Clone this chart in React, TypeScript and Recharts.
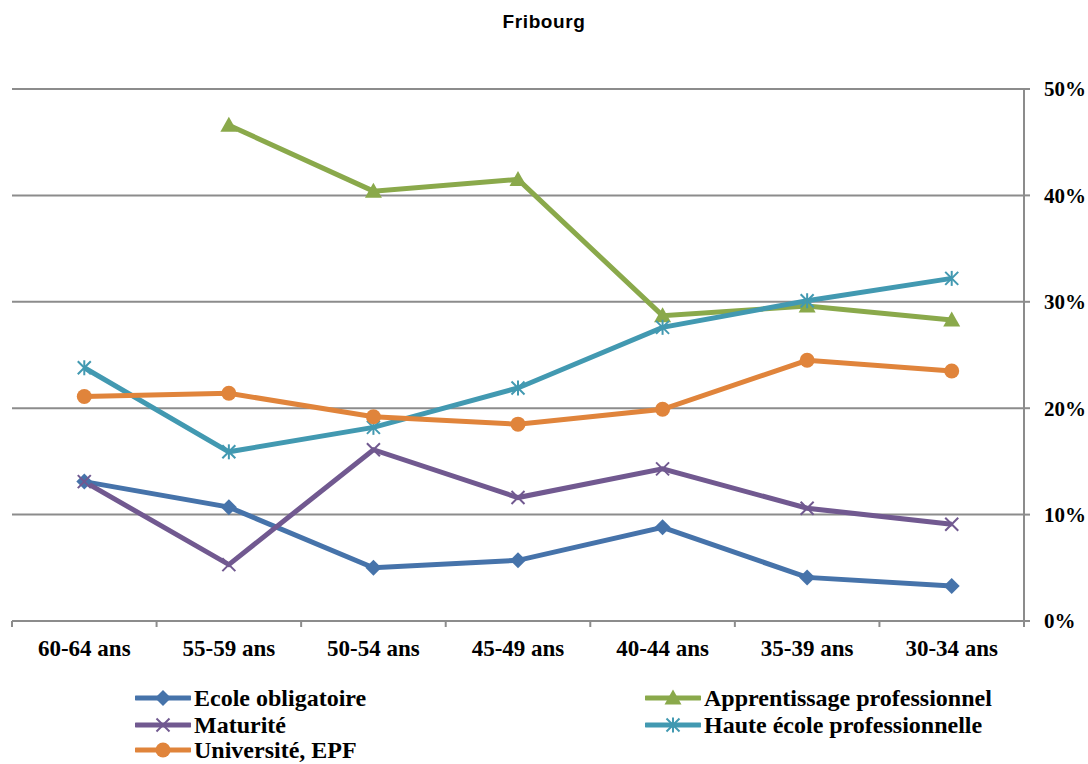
import React from 'react';
import { LineChart, Line, XAxis, YAxis, CartesianGrid, Legend } from 'recharts';

const categories = ['60-64 ans', '55-59 ans', '50-54 ans', '45-49 ans', '40-44 ans', '35-39 ans', '30-34 ans'];
const ecole = [13.1, 10.7, 5.0, 5.7, 8.8, 4.1, 3.3];
const apprentissage = [null, 46.6, 40.4, 41.5, 28.7, 29.6, 28.3];
const maturite = [13.1, 5.3, 16.1, 11.6, 14.3, 10.6, 9.1];
const haute = [23.8, 15.9, 18.2, 21.9, 27.6, 30.1, 32.2];
const universite = [21.1, 21.4, 19.2, 18.5, 19.9, 24.5, 23.5];
const yTicks = [0, 10, 20, 30, 40, 50];

const data = categories.map((cat, i) => ({
  cat,
  ecole: ecole[i],
  apprentissage: apprentissage[i],
  maturite: maturite[i],
  haute: haute[i],
  universite: universite[i],
}));

const C_BLUE = '#4673aa';
const C_GREEN = '#8aa94b';
const C_PURPLE = '#715990';
const C_TEAL = '#4299b1';
const C_ORANGE = '#e0843b';
const GRID = '#8c8c8c';
const SERIF = '"Liberation Serif", "Times New Roman", serif';

type MarkerKind = 'diamond' | 'triangle' | 'x' | 'star' | 'circle';

const marker = (kind: MarkerKind, cx: number, cy: number, color: string, key?: string) => {
  switch (kind) {
    case 'diamond':
      return <path key={key} d={`M${cx},${cy - 8} L${cx + 8},${cy} L${cx},${cy + 8} L${cx - 8},${cy} Z`} fill={color} />;
    case 'triangle':
      return <path key={key} d={`M${cx},${cy - 8.5} L${cx + 8.5},${cy + 6.5} L${cx - 8.5},${cy + 6.5} Z`} fill={color} />;
    case 'x':
      return (
        <g key={key} stroke={color} strokeWidth={2}>
          <line x1={cx - 6.5} y1={cy - 6.5} x2={cx + 6.5} y2={cy + 6.5} />
          <line x1={cx - 6.5} y1={cy + 6.5} x2={cx + 6.5} y2={cy - 6.5} />
        </g>
      );
    case 'star':
      return (
        <g key={key} stroke={color} strokeWidth={2}>
          <line x1={cx - 6.5} y1={cy - 6.5} x2={cx + 6.5} y2={cy + 6.5} />
          <line x1={cx - 6.5} y1={cy + 6.5} x2={cx + 6.5} y2={cy - 6.5} />
          <line x1={cx} y1={cy - 7.5} x2={cx} y2={cy + 7.5} />
        </g>
      );
    case 'circle':
    default:
      return <circle key={key} cx={cx} cy={cy} r={7.5} fill={color} />;
  }
};

const makeDot = (kind: MarkerKind, color: string) => (props: any) => {
  const { cx, cy, index } = props;
  if (cx == null || cy == null || props.value == null) return <g key={`d-${kind}-${index}`} />;
  return marker(kind, cx, cy, color, `d-${kind}-${index}`);
};

const XTick = (props: any) => {
  const { x, y, payload, index, visibleTicksCount } = props;
  const off = payload.offset || 0;
  const axisY = y - 6;
  return (
    <g>
      <line x1={x - off} y1={axisY} x2={x - off} y2={axisY + 6} stroke={GRID} strokeWidth={2} />
      {index === visibleTicksCount - 1 && (
        <line x1={x + off} y1={axisY} x2={x + off} y2={axisY + 6} stroke={GRID} strokeWidth={2} />
      )}
      <text x={x} y={y + 29} textAnchor="middle" fontFamily={SERIF} fontWeight="bold" fontSize={23} fill="#000">
        {payload.value}
      </text>
    </g>
  );
};

const legendItems: { label: string; kind: MarkerKind; color: string; left: number; top: number }[] = [
  { label: 'Ecole obligatoire', kind: 'diamond', color: C_BLUE, left: 135, top: 37 },
  { label: 'Maturité', kind: 'x', color: C_PURPLE, left: 135, top: 64 },
  { label: 'Université, EPF', kind: 'circle', color: C_ORANGE, left: 135, top: 89 },
  { label: 'Apprentissage professionnel', kind: 'triangle', color: C_GREEN, left: 645, top: 37 },
  { label: 'Haute école professionnelle', kind: 'star', color: C_TEAL, left: 645, top: 64 },
];

const LegendContent = () => (
  <div style={{ position: 'relative', width: 1088, height: 103 }}>
    {legendItems.map((it) => (
      <div key={it.label} style={{ position: 'absolute', left: it.left, top: it.top - 11, height: 22, display: 'flex', alignItems: 'center' }}>
        <svg width={56} height={22} style={{ display: 'block' }}>
          <line x1={1} y1={11} x2={55} y2={11} stroke={it.color} strokeWidth={5} strokeLinecap="round" />
          {marker(it.kind, 28, 11, it.color)}
        </svg>
        <span style={{ fontFamily: SERIF, fontWeight: 'bold', fontSize: 24, color: '#000', marginLeft: 3, whiteSpace: 'nowrap', lineHeight: '22px' }}>
          {it.label}
        </span>
      </div>
    ))}
  </div>
);

export default function App() {
  return (
    <div style={{ position: 'absolute', left: 0, top: 0, width: 1088, height: 764, background: '#fff', overflow: 'hidden' }}>
      <div style={{ position: 'absolute', top: 11, left: 0, width: 1088, textAlign: 'center', fontFamily: '"Liberation Sans", Arial, sans-serif', fontWeight: 'bold', fontSize: 19, letterSpacing: 0.6, color: '#000' }}>
        Fribourg
      </div>
      <LineChart width={1088} height={764} data={data} margin={{ top: 89, right: 0, bottom: 0, left: 12 }}>
        <CartesianGrid vertical={false} stroke={GRID} strokeWidth={2} />
        <XAxis
          dataKey="cat"
          scale="band"
          axisLine={{ stroke: GRID, strokeWidth: 2 }}
          tickLine={false}
          tickSize={6}
          tickMargin={0}
          height={40}
          interval={0}
          tick={<XTick />}
        />
        <YAxis
          orientation="right"
          domain={[0, 50]}
          ticks={yTicks}
          width={64}
          axisLine={{ stroke: GRID, strokeWidth: 2 }}
          tickLine={{ stroke: GRID, strokeWidth: 2 }}
          tickSize={6}
          tickMargin={14}
          tickFormatter={(v: number) => `${v}%`}
          tick={{ fontFamily: SERIF, fontWeight: 'bold', fontSize: 21, fill: '#000' }}
        />
        <Legend verticalAlign="bottom" content={<LegendContent />} wrapperStyle={{ left: 0, width: 1088, bottom: 0 }} />
        <Line dataKey="ecole" name="Ecole obligatoire" stroke={C_BLUE} strokeWidth={5} dot={makeDot('diamond', C_BLUE)} activeDot={false} isAnimationActive={false} />
        <Line dataKey="apprentissage" name="Apprentissage professionnel" stroke={C_GREEN} strokeWidth={5} dot={makeDot('triangle', C_GREEN)} activeDot={false} isAnimationActive={false} />
        <Line dataKey="maturite" name="Maturité" stroke={C_PURPLE} strokeWidth={5} dot={makeDot('x', C_PURPLE)} activeDot={false} isAnimationActive={false} />
        <Line dataKey="haute" name="Haute école professionnelle" stroke={C_TEAL} strokeWidth={5} dot={makeDot('star', C_TEAL)} activeDot={false} isAnimationActive={false} />
        <Line dataKey="universite" name="Université, EPF" stroke={C_ORANGE} strokeWidth={5} dot={makeDot('circle', C_ORANGE)} activeDot={false} isAnimationActive={false} />
      </LineChart>
    </div>
  );
}
